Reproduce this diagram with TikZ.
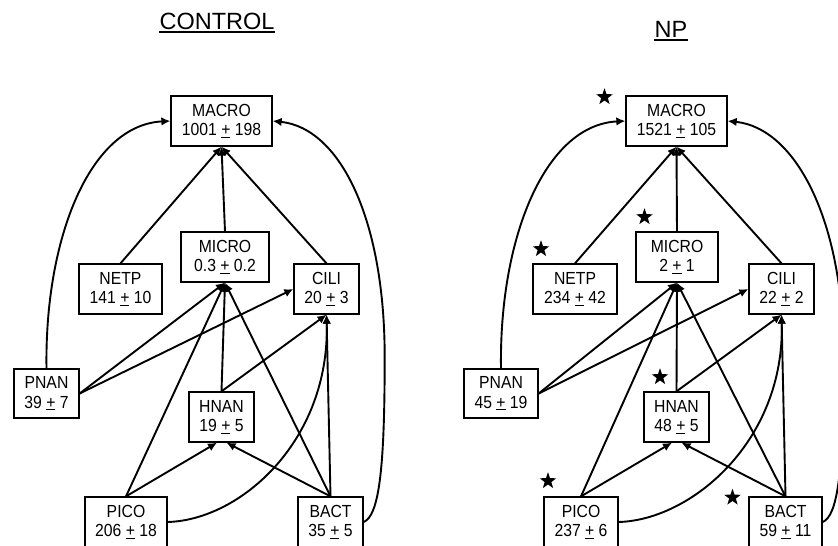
\documentclass[tikz,border=0pt]{standalone}
\usepackage{fontspec}
\setmainfont{Liberation Sans}
\newfontfamily\boxfont[FakeStretch=0.9]{Liberation Sans}
\usetikzlibrary{arrows.meta,calc,shapes.geometric}
\begin{document}
\begin{tikzpicture}[x=1pt,y=-1pt,
  nbox/.style={draw, line width=1.3pt, inner sep=0pt, minimum height=50pt, align=center,
    font=\boxfont\fontsize{17.5}{19.5}\selectfont},
  arr/.style={line width=1.9pt, -{Latex[length=9pt,width=8.5pt]}},
  ttl/.style={font=\fontsize{23.5}{28}\selectfont, anchor=base, inner sep=0pt},
  uline/.style={line width=2.2pt},
  sig/.style={star, star points=5, star point ratio=2.5, fill=black, inner sep=0pt, minimum size=17.5pt}]
\useasboundingbox (0,0) rectangle (838,546);

% titles
\node[ttl] (tctl) at (217,29) {CONTROL};
\node[ttl] (tnp) at (671,37) {NP};
\draw[uline] ($(tctl.base west)+(0,3)$) -- ($(tctl.base east)+(0,3)$);
\draw[uline] ($(tnp.base west)+(0,3)$) -- ($(tnp.base east)+(0,3)$);

% CONTROL panel
\node[nbox, minimum width=101pt] (L-macro) at (221.5,121) {MACRO\\1001 \underline{+} 198};
\node[nbox, minimum width=88pt] (L-micro) at (225,257) {MICRO\\0.3 \underline{+} 0.2};
\node[nbox, minimum width=83pt] (L-netp) at (120.5,289) {NETP\\141 \underline{+} 10};
\node[nbox, minimum width=65pt] (L-cili) at (326.5,289) {CILI\\20 \underline{+} 3};
\node[nbox, minimum width=65pt, minimum height=49pt] (L-pnan) at (46.5,393.5) {PNAN\\39 \underline{+} 7};
\node[nbox, minimum width=65pt] (L-hnan) at (221.5,417) {HNAN\\19 \underline{+} 5};
\node[nbox, minimum width=82pt] (L-pico) at (126,522) {PICO\\206 \underline{+} 18};
\node[nbox, minimum width=65pt] (L-bact) at (330.5,522) {BACT\\35 \underline{+} 5};

% NP panel
\node[nbox, minimum width=101pt] (R-macro) at (676.5,121) {MACRO\\1521 \underline{+} 105};
\node[nbox, minimum width=82pt] (R-micro) at (677,257) {MICRO\\2 \underline{+} 1};
\node[nbox, minimum width=84pt] (R-netp) at (575,289) {NETP\\234 \underline{+} 42};
\node[nbox, minimum width=65pt] (R-cili) at (781.5,289) {CILI\\22 \underline{+} 2};
\node[nbox, minimum width=74pt, minimum height=49pt] (R-pnan) at (501,393.5) {PNAN\\45 \underline{+} 19};
\node[nbox, minimum width=65pt] (R-hnan) at (676.5,417) {HNAN\\48 \underline{+} 5};
\node[nbox, minimum width=74pt] (R-pico) at (581,522) {PICO\\237 \underline{+} 6};
\node[nbox, minimum width=73pt] (R-bact) at (785.5,522) {BACT\\59 \underline{+} 11};

% significance stars
\node[sig] (s1) at (604.5,97) {};
\node[sig] (s2) at (644.5,217) {};
\node[sig] (s3) at (541,249) {};
\node[sig] (s4) at (660,377) {};
\node[sig] (s5) at (548,481) {};
\node[sig] (s6) at (732.5,497.5) {};

% connectors
\foreach \p in {L,R}{
  \draw[arr] (\p-netp.north) -- (\p-macro.south);
  \draw[arr] (\p-micro.north) -- (\p-macro.south);
  \draw[arr] (\p-cili.north) -- (\p-macro.south);
  \draw[arr] (\p-pnan.east) -- (\p-micro.south);
  \draw[arr] (\p-pnan.east) -- (\p-cili.west);
  \draw[arr] (\p-pico.north) -- (\p-micro.south);
  \draw[arr] (\p-hnan.north) -- (\p-micro.south);
  \draw[arr] (\p-bact.north) -- (\p-micro.south);
  \draw[arr] (\p-hnan.north) -- (\p-cili.south);
  \draw[arr] (\p-bact.north) -- (\p-cili.south);
  \draw[arr] (\p-pico.north) -- ($(\p-hnan.south)+(-4.5,0)$);
  \draw[arr] (\p-bact.north) -- ($(\p-hnan.south)+(5,0)$);
  \draw[arr] (\p-pnan.north) .. controls +(-2,-129) and +(-81,4) .. (\p-macro.west);
  \draw[arr] (\p-pico.east) .. controls +(73,-2) and +(3.5,126) .. (\p-cili.south);
  \draw[arr] (\p-bact.east) .. controls +(15,-6) and +(0,110) .. ($(\p-bact.east)+(21,-161)$)
     .. controls +(1,-140) and +(68,7) .. (\p-macro.east);
}
\end{tikzpicture}
\end{document}
